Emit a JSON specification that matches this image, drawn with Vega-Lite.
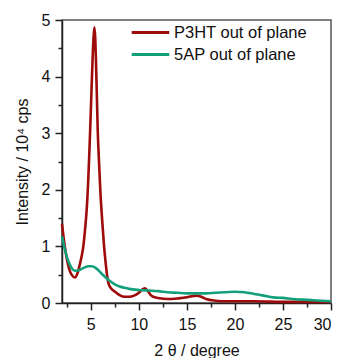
{
  "$schema": "https://vega.github.io/schema/vega-lite/v6.json",
  "autosize": "none",
  "width": 269,
  "height": 283,
  "padding": {"left": 62, "top": 20, "right": 9, "bottom": 55},
  "background": "white",
  "config": {
    "view": {"stroke": "#555", "strokeWidth": 1.5},
    "font": "Liberation Sans",
    "axis": {"grid": false, "domainColor": "#222", "domainWidth": 1.5, "tickColor": "#222", "tickWidth": 1.5, "labelFont": "Liberation Sans", "labelFontSize": 16, "labelColor": "#111", "titleFont": "Liberation Sans", "titleFontSize": 16, "titleFontWeight": "normal", "titleColor": "#111"}
  },
  "datasets": {
    "xrd": [
      {"s": "P3HT out of plane", "x": 2.0, "y": 1.40},
      {"s": "P3HT out of plane", "x": 2.25, "y": 1.05},
      {"s": "P3HT out of plane", "x": 2.5, "y": 0.78},
      {"s": "P3HT out of plane", "x": 2.75, "y": 0.60},
      {"s": "P3HT out of plane", "x": 3.0, "y": 0.50},
      {"s": "P3HT out of plane", "x": 3.35, "y": 0.45},
      {"s": "P3HT out of plane", "x": 3.6, "y": 0.52},
      {"s": "P3HT out of plane", "x": 3.88, "y": 0.70},
      {"s": "P3HT out of plane", "x": 4.05, "y": 0.83},
      {"s": "P3HT out of plane", "x": 4.22, "y": 1.0},
      {"s": "P3HT out of plane", "x": 4.4, "y": 1.3},
      {"s": "P3HT out of plane", "x": 4.57, "y": 1.65},
      {"s": "P3HT out of plane", "x": 4.7, "y": 2.05},
      {"s": "P3HT out of plane", "x": 4.81, "y": 2.5},
      {"s": "P3HT out of plane", "x": 4.92, "y": 3.0},
      {"s": "P3HT out of plane", "x": 5.05, "y": 3.65},
      {"s": "P3HT out of plane", "x": 5.16, "y": 4.2},
      {"s": "P3HT out of plane", "x": 5.27, "y": 4.65},
      {"s": "P3HT out of plane", "x": 5.37, "y": 4.87},
      {"s": "P3HT out of plane", "x": 5.46, "y": 4.68},
      {"s": "P3HT out of plane", "x": 5.54, "y": 4.25},
      {"s": "P3HT out of plane", "x": 5.63, "y": 3.65},
      {"s": "P3HT out of plane", "x": 5.72, "y": 3.05},
      {"s": "P3HT out of plane", "x": 5.85, "y": 2.5},
      {"s": "P3HT out of plane", "x": 6.0, "y": 1.95},
      {"s": "P3HT out of plane", "x": 6.2, "y": 1.42},
      {"s": "P3HT out of plane", "x": 6.38, "y": 1.0},
      {"s": "P3HT out of plane", "x": 6.55, "y": 0.70},
      {"s": "P3HT out of plane", "x": 6.7, "y": 0.48},
      {"s": "P3HT out of plane", "x": 6.83, "y": 0.35},
      {"s": "P3HT out of plane", "x": 7.1, "y": 0.26},
      {"s": "P3HT out of plane", "x": 7.52, "y": 0.20},
      {"s": "P3HT out of plane", "x": 8.0, "y": 0.14},
      {"s": "P3HT out of plane", "x": 8.5, "y": 0.11},
      {"s": "P3HT out of plane", "x": 9.0, "y": 0.11},
      {"s": "P3HT out of plane", "x": 9.5, "y": 0.13},
      {"s": "P3HT out of plane", "x": 10.0, "y": 0.18},
      {"s": "P3HT out of plane", "x": 10.3, "y": 0.23},
      {"s": "P3HT out of plane", "x": 10.6, "y": 0.26},
      {"s": "P3HT out of plane", "x": 10.9, "y": 0.22},
      {"s": "P3HT out of plane", "x": 11.2, "y": 0.15},
      {"s": "P3HT out of plane", "x": 11.5, "y": 0.11},
      {"s": "P3HT out of plane", "x": 12.0, "y": 0.09},
      {"s": "P3HT out of plane", "x": 13.0, "y": 0.07},
      {"s": "P3HT out of plane", "x": 14.0, "y": 0.08},
      {"s": "P3HT out of plane", "x": 15.0, "y": 0.10},
      {"s": "P3HT out of plane", "x": 15.5, "y": 0.12},
      {"s": "P3HT out of plane", "x": 16.0, "y": 0.13},
      {"s": "P3HT out of plane", "x": 16.5, "y": 0.11},
      {"s": "P3HT out of plane", "x": 17.0, "y": 0.07},
      {"s": "P3HT out of plane", "x": 18.0, "y": 0.04},
      {"s": "P3HT out of plane", "x": 19.0, "y": 0.03},
      {"s": "P3HT out of plane", "x": 20.0, "y": 0.03},
      {"s": "P3HT out of plane", "x": 22.0, "y": 0.03},
      {"s": "P3HT out of plane", "x": 25.0, "y": 0.02},
      {"s": "P3HT out of plane", "x": 28.0, "y": 0.02},
      {"s": "P3HT out of plane", "x": 30.0, "y": 0.02},
      {"s": "5AP out of plane", "x": 2.0, "y": 1.18},
      {"s": "5AP out of plane", "x": 2.25, "y": 0.98},
      {"s": "5AP out of plane", "x": 2.5, "y": 0.82},
      {"s": "5AP out of plane", "x": 2.75, "y": 0.70},
      {"s": "5AP out of plane", "x": 3.0, "y": 0.62},
      {"s": "5AP out of plane", "x": 3.35, "y": 0.57},
      {"s": "5AP out of plane", "x": 3.75, "y": 0.58},
      {"s": "5AP out of plane", "x": 4.25, "y": 0.62},
      {"s": "5AP out of plane", "x": 4.75, "y": 0.65},
      {"s": "5AP out of plane", "x": 5.1, "y": 0.65},
      {"s": "5AP out of plane", "x": 5.5, "y": 0.62},
      {"s": "5AP out of plane", "x": 6.0, "y": 0.54},
      {"s": "5AP out of plane", "x": 6.3, "y": 0.49},
      {"s": "5AP out of plane", "x": 6.75, "y": 0.42},
      {"s": "5AP out of plane", "x": 7.5, "y": 0.33},
      {"s": "5AP out of plane", "x": 8.0, "y": 0.29},
      {"s": "5AP out of plane", "x": 8.5, "y": 0.27},
      {"s": "5AP out of plane", "x": 9.0, "y": 0.25},
      {"s": "5AP out of plane", "x": 10.0, "y": 0.23},
      {"s": "5AP out of plane", "x": 11.0, "y": 0.22},
      {"s": "5AP out of plane", "x": 12.0, "y": 0.21},
      {"s": "5AP out of plane", "x": 13.0, "y": 0.19},
      {"s": "5AP out of plane", "x": 14.0, "y": 0.18},
      {"s": "5AP out of plane", "x": 15.0, "y": 0.17},
      {"s": "5AP out of plane", "x": 16.0, "y": 0.17},
      {"s": "5AP out of plane", "x": 17.0, "y": 0.17},
      {"s": "5AP out of plane", "x": 18.0, "y": 0.18},
      {"s": "5AP out of plane", "x": 19.0, "y": 0.19},
      {"s": "5AP out of plane", "x": 20.0, "y": 0.20},
      {"s": "5AP out of plane", "x": 21.0, "y": 0.19},
      {"s": "5AP out of plane", "x": 22.0, "y": 0.16},
      {"s": "5AP out of plane", "x": 23.0, "y": 0.13},
      {"s": "5AP out of plane", "x": 24.0, "y": 0.10},
      {"s": "5AP out of plane", "x": 25.0, "y": 0.09},
      {"s": "5AP out of plane", "x": 26.0, "y": 0.07},
      {"s": "5AP out of plane", "x": 27.0, "y": 0.06},
      {"s": "5AP out of plane", "x": 28.0, "y": 0.05},
      {"s": "5AP out of plane", "x": 29.0, "y": 0.04},
      {"s": "5AP out of plane", "x": 30.0, "y": 0.03}
    ]
  },
  "data": {"name": "xrd"},
  "resolve": {"axis": {"x": "independent", "y": "independent"}},
  "layer": [
    {
      "mark": {"type": "line", "strokeOpacity": 0},
      "encoding": {
        "x": {"field": "x", "type": "quantitative", "scale": {"domain": [2, 30], "nice": false, "zero": false},
          "axis": {"orient": "bottom", "values": [2.5, 7.5, 12.5, 17.5, 22.5, 27.5], "labels": false, "tickSize": 4, "domain": false, "title": null}},
        "y": {"field": "y", "type": "quantitative", "scale": {"domain": [0, 5], "nice": false},
          "axis": {"orient": "left", "values": [0.5, 1.5, 2.5, 3.5, 4.5], "labels": false, "tickSize": 4, "domain": false, "title": null}},
        "detail": {"field": "s"}
      }
    },
    {
      "mark": {"type": "line", "strokeWidth": 2.6, "interpolate": "monotone"},
      "encoding": {
        "x": {"field": "x", "type": "quantitative", "scale": {"domain": [2, 30], "nice": false, "zero": false},
          "axis": {"orient": "bottom", "values": [5, 10, 15, 20, 25, 30], "tickSize": 7, "labelPadding": 6, "title": "2 θ / degree", "titlePadding": 10}},
        "y": {"field": "y", "type": "quantitative", "scale": {"domain": [0, 5], "nice": false},
          "axis": {"orient": "left", "values": [0, 1, 2, 3, 4, 5], "tickSize": 7, "labelPadding": 5, "title": "Intensity / 10⁴ cps", "titlePadding": 11}},
        "color": {"field": "s", "type": "nominal",
          "scale": {"domain": ["P3HT out of plane", "5AP out of plane"], "range": ["#9e0b0b", "#12a07a"]},
          "legend": {"orient": "none", "legendX": 79, "legendY": 3, "title": null, "symbolType": "M-2.35,0L2.35,0", "symbolSize": 256, "symbolStrokeWidth": 3, "symbolFillColor": "transparent", "labelFontSize": 16.5, "labelFont": "Liberation Sans", "labelColor": "#111", "labelLimit": 300, "rowPadding": 4, "labelOffset": 14}}
      }
    }
  ]
}
